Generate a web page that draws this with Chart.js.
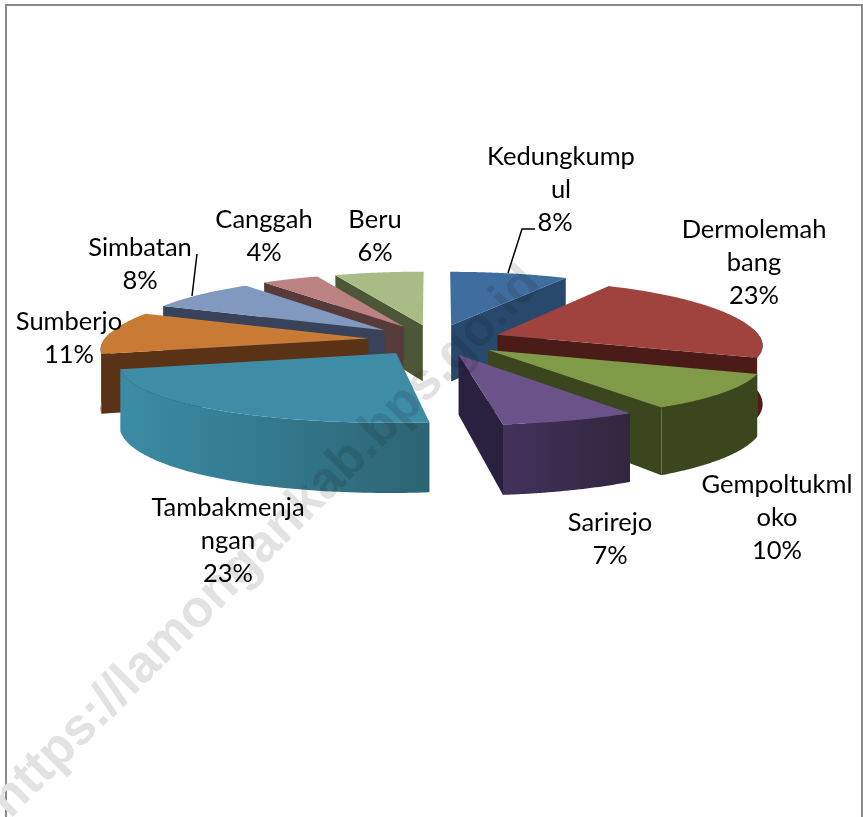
<!DOCTYPE html>
<html>
<head>
<meta charset="utf-8">
<title>Pie</title>
<script src="https://cdn.jsdelivr.net/npm/chart.js@4"></script>
<style>
html, body { margin: 0; padding: 0; background: #fff; }
#wrap { position: relative; width: 863px; height: 817px; overflow: hidden; }
#frame { position: absolute; left: 5px; top: 4px; width: 858px; height: 820px; border: 2px solid #8a8a8a; box-sizing: border-box; }
canvas { position: absolute; left: 0; top: 0; }
</style>
</head>
<body>
<div id="wrap">
  <div id="frame"></div>
  <canvas id="pie" width="863" height="817"></canvas>
</div>
<script>
const categories = ['Kedungkumpul', 'Dermolemahbang', 'Gempoltukmloko', 'Sarirejo', 'Tambakmenjangan', 'Sumberjo', 'Simbatan', 'Canggah', 'Beru']
const shares = [8, 23, 10, 7, 23, 11, 8, 4, 6]
const labelRows = [['Kedungkump', 'ul'], ['Dermolemah', 'bang'], ['Gempoltukml', 'oko'], ['Sarirejo'], ['Tambakmenja', 'ngan'], ['Sumberjo'], ['Simbatan'], ['Canggah'], ['Beru']]

const topColors = ['#3f6d9f', '#a0433f', '#7f9b48', '#6a5388', '#3f8ca6', '#c97b35', '#8198bf', '#bc8181', '#aabc86']
const faceColors = ['#29496c', '#4b1b18', '#3b451e', '#2a2140', '#2c6473', '#5a3316', '#38425a', '#573a3a', '#4d5637']
const wallLeft = ['#29496c', '#531a18', '#3b451e', '#43325c', '#3a8ca5', '#5a3316', '#38425a', '#573a3a', '#4d5637']
const wallRight = ['#29496c', '#531a18', '#3b451e', '#31263f', '#2c6473', '#5a3316', '#38425a', '#573a3a', '#4d5637']

// label x centre, y of the first row
const labelX = [561, 754, 777, 610, 228, 69, 140, 264, 375]
const labelY = [157, 230, 485, 523, 508, 322, 248, 220, 220]
const percentX = [555, 754, 777, 610, 228, 69, 140, 264, 375]
const rowGap = 32.7

const leaders = [
    [[508, 273], [522, 229], [535, 229]],
    [[197, 254], [192, 296]]
]

// camera of the 3d look
const centerX = 435
const centerY = 340
const focal = 1824
const distX = 6.9
const backStretch = 10
const tiltFocal = 670
const distY = 11
const wallHeight = 0.219

function project(u, v, down) {
    const w = focal / (distX + v) + backStretch * Math.max(v, 0) * Math.max(v, 0)
    return {
        x: centerX + u * w,
        y: centerY - tiltFocal * v / (distY + v) + (down ? wallHeight * w : 0)
    }
}

function fillPoly(ctx, pts, fill) {
    ctx.beginPath()
    pts.forEach((p, i) => {
        if (i == 0) ctx.moveTo(p.x, p.y)
        else ctx.lineTo(p.x, p.y)
    })
    ctx.closePath()
    ctx.fillStyle = fill
    ctx.fill()
}

// the arc element gives the angles and explosion, here they get projected
function drawSlice(ctx, arc, i) {
    const mid = (arc.startAngle + arc.endAngle) / 2
    const explode = arc.options.offset / arc.outerRadius
    const ua = explode * Math.cos(mid)
    const va = -explode * Math.sin(mid)
    const steps = 70
    const rim = []
    for (let s = 0; s <= steps; s++) {
        const a = arc.startAngle + (arc.endAngle - arc.startAngle) * s / steps
        rim.push({ a: a, u: ua + Math.cos(a), v: va - Math.sin(a) })
    }
    const apexTop = project(ua, va, false)
    const apexLow = project(ua, va, true)
    const rimMid = project(rim[steps / 2].u, rim[steps / 2].v, false)

    // cut faces, only the ones turned to the viewer
    const ends = [rim[0], rim[steps]]
    ends.forEach(e => {
        const top = project(e.u, e.v, false)
        const low = project(e.u, e.v, true)
        const dx = top.x - apexTop.x
        if (Math.abs(dx) < 4) return
        const lineY = apexTop.y + (rimMid.x - apexTop.x) * (top.y - apexTop.y) / dx
        if (rimMid.y < lineY) fillPoly(ctx, [apexTop, top, low, apexLow], faceColors[i])
    })

    // outer wall, front part of the rim
    const front = rim.filter(r => Math.sin(r.a) > -0.1)
    if (front.length > 1) {
        const upper = front.map(r => project(r.u, r.v, false))
        const lower = front.map(r => project(r.u, r.v, true)).reverse()
        const xs = upper.map(p => p.x)
        const grad = ctx.createLinearGradient(Math.min(...xs), 0, Math.max(...xs), 0)
        grad.addColorStop(0, wallLeft[i])
        grad.addColorStop(1, wallRight[i])
        fillPoly(ctx, upper.concat(lower), grad)
    }

    // top face
    fillPoly(ctx, [apexTop].concat(rim.map(r => project(r.u, r.v, false))), topColors[i])
}

const pie3d = {
    id: 'pie3d',
    beforeDatasetDraw(chart, args) {
        const ctx = chart.ctx
        const arcs = args.meta.data
        const order = arcs.map((arc, i) => i).sort((a, b) => {
            const ma = (arcs[a].startAngle + arcs[a].endAngle) / 2
            const mb = (arcs[b].startAngle + arcs[b].endAngle) / 2
            return Math.sin(ma) - Math.sin(mb)
        })
        order.forEach(i => drawSlice(ctx, arcs[i], i))
        return false
    },
    afterDraw(chart) {
        const ctx = chart.ctx
        ctx.save()
        ctx.fillStyle = '#000'
        ctx.textAlign = 'center'
        ctx.textBaseline = 'middle'
        ctx.font = '25.5px Lato'
        labelRows.forEach((rows, i) => {
            rows.forEach((row, r) => ctx.fillText(row, labelX[i], labelY[i] + r * rowGap))
            ctx.fillText(shares[i] + '%', percentX[i], labelY[i] + rows.length * rowGap)
        })
        ctx.strokeStyle = '#000'
        ctx.lineWidth = 1.5
        leaders.forEach(line => {
            ctx.beginPath()
            line.forEach((p, i) => i == 0 ? ctx.moveTo(p[0], p[1]) : ctx.lineTo(p[0], p[1]))
            ctx.stroke()
        })
        // watermark
        ctx.globalCompositeOperation = 'multiply'
        ctx.translate(14, 795)
        ctx.rotate(-Math.PI / 4)
        ctx.textAlign = 'left'
        ctx.font = 'bold 52px "Liberation Sans"'
        ctx.fillStyle = '#e2e2e2'
        ctx.fillText('https://lamongankab.bps.go.id', -20, 0)
        ctx.restore()
    }
}

new Chart(document.getElementById('pie'), {
    type: 'pie',
    data: {
        labels: categories,
        datasets: [{
            data: shares,
            backgroundColor: topColors,
            borderWidth: 0,
            offset: 92
        }]
    },
    options: {
        responsive: false,
        animation: false,
        layout: { padding: 0 },
        plugins: { legend: { display: false }, tooltip: { enabled: false } }
    },
    plugins: [pie3d]
})
</script>
</body>
</html>
